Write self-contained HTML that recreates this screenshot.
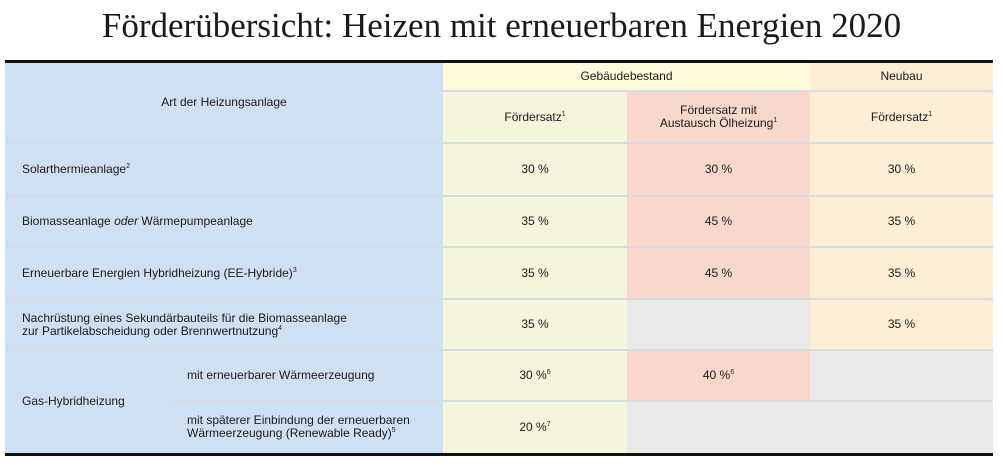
<!DOCTYPE html>
<html><head><meta charset="utf-8"><style>
body{margin:0;width:1003px;height:466px;background:#fff;position:relative;overflow:hidden;font-family:"Liberation Sans",sans-serif;color:#1a1a1a}
.t{position:absolute;left:0;width:1003px;top:6px;text-align:center;font-family:"Liberation Serif",serif;font-size:35px;color:#1a1a1a}
.b{position:absolute}
.c{position:absolute;display:flex;align-items:center;justify-content:center;text-align:center;font-size:12px;line-height:13px}
.l{position:absolute;display:flex;align-items:center;font-size:12px;line-height:13px}
.h{position:absolute;height:2px;background:#d5dbe0}
sup{font-size:7px;vertical-align:5px;line-height:0}
</style></head><body>
<div class="t">Förderübersicht: Heizen mit erneuerbaren Energien 2020</div>
<div class="b" style="left:5px;top:61px;width:438px;height:392px;background:#d0e0f3"></div>
<div class="b" style="left:443px;top:61px;width:367px;height:30px;background:#fffadc"></div>
<div class="b" style="left:443px;top:91px;width:184px;height:362px;background:#f5f4dc"></div>
<div class="b" style="left:627px;top:91px;width:183px;height:208px;background:#f8d8cc"></div>
<div class="b" style="left:627px;top:299px;width:183px;height:51px;background:#e9e9e7"></div>
<div class="b" style="left:627px;top:350px;width:183px;height:51px;background:#f8d8cc"></div>
<div class="b" style="left:627px;top:401px;width:366px;height:52px;background:#e9e9e7"></div>
<div class="b" style="left:810px;top:61px;width:183px;height:289px;background:#fdefd6"></div>
<div class="b" style="left:810px;top:350px;width:183px;height:51px;background:#e9e9e7"></div>
<div class="b" style="left:5px;top:60px;width:988px;height:3px;background:#111"></div>
<div class="h" style="left:443px;top:90px;width:550px"></div>
<div class="h" style="left:5px;top:142px;width:988px"></div>
<div class="h" style="left:5px;top:195px;width:988px"></div>
<div class="h" style="left:5px;top:246px;width:988px"></div>
<div class="h" style="left:5px;top:298px;width:988px"></div>
<div class="h" style="left:5px;top:349px;width:988px"></div>
<div class="h" style="left:170px;top:400px;width:823px"></div>
<div class="b" style="left:5px;top:453px;width:988px;height:3px;background:#111"></div>
<div class="c" style="left:5px;top:61px;width:438px;height:82px">Art der Heizungsanlage</div>
<div class="c" style="left:443px;top:61px;width:367px;height:30px">Gebäudebestand</div>
<div class="c" style="left:810px;top:61px;width:183px;height:30px">Neubau</div>
<div class="c" style="left:443px;top:91px;width:184px;height:52px"><span>Fördersatz<sup>1</sup></span></div>
<div class="c" style="left:627px;top:91px;width:183px;height:52px"><span>Fördersatz mit<br>Austausch Ölheizung<sup>1</sup></span></div>
<div class="c" style="left:810px;top:91px;width:183px;height:52px"><span>Fördersatz<sup>1</sup></span></div>
<div class="l" style="left:22px;top:143px;height:53px"><span>Solarthermieanlage<sup>2</sup></span></div>
<div class="l" style="left:22px;top:196px;height:51px"><span>Biomasseanlage <i>oder</i> Wärmepumpeanlage</span></div>
<div class="l" style="left:22px;top:247px;height:52px"><span>Erneuerbare Energien Hybridheizung (EE-Hybride)<sup>3</sup></span></div>
<div class="l" style="left:22px;top:299px;height:51px"><span>Nachrüstung eines Sekundärbauteils für die Biomasseanlage<br>zur Partikelabscheidung oder Brennwertnutzung<sup>4</sup></span></div>
<div class="l" style="left:22px;top:350px;height:103px">Gas-Hybridheizung</div>
<div class="l" style="left:187px;top:350px;height:51px">mit erneuerbarer Wärmeerzeugung</div>
<div class="l" style="left:187px;top:401px;height:52px"><span>mit späterer Einbindung der erneuerbaren<br>Wärmeerzeugung (Renewable Ready)<sup>5</sup></span></div>
<div class="c" style="left:443px;top:143px;width:184px;height:53px">30 %</div>
<div class="c" style="left:627px;top:143px;width:183px;height:53px">30 %</div>
<div class="c" style="left:810px;top:143px;width:183px;height:53px">30 %</div>
<div class="c" style="left:443px;top:196px;width:184px;height:51px">35 %</div>
<div class="c" style="left:627px;top:196px;width:183px;height:51px">45 %</div>
<div class="c" style="left:810px;top:196px;width:183px;height:51px">35 %</div>
<div class="c" style="left:443px;top:247px;width:184px;height:52px">35 %</div>
<div class="c" style="left:627px;top:247px;width:183px;height:52px">45 %</div>
<div class="c" style="left:810px;top:247px;width:183px;height:52px">35 %</div>
<div class="c" style="left:443px;top:299px;width:184px;height:51px">35 %</div>
<div class="c" style="left:810px;top:299px;width:183px;height:51px">35 %</div>
<div class="c" style="left:443px;top:350px;width:184px;height:51px"><span>30 %<sup>6</sup></span></div>
<div class="c" style="left:627px;top:350px;width:183px;height:51px"><span>40 %<sup>6</sup></span></div>
<div class="c" style="left:443px;top:401px;width:184px;height:52px"><span>20 %<sup>7</sup></span></div>
</body></html>
